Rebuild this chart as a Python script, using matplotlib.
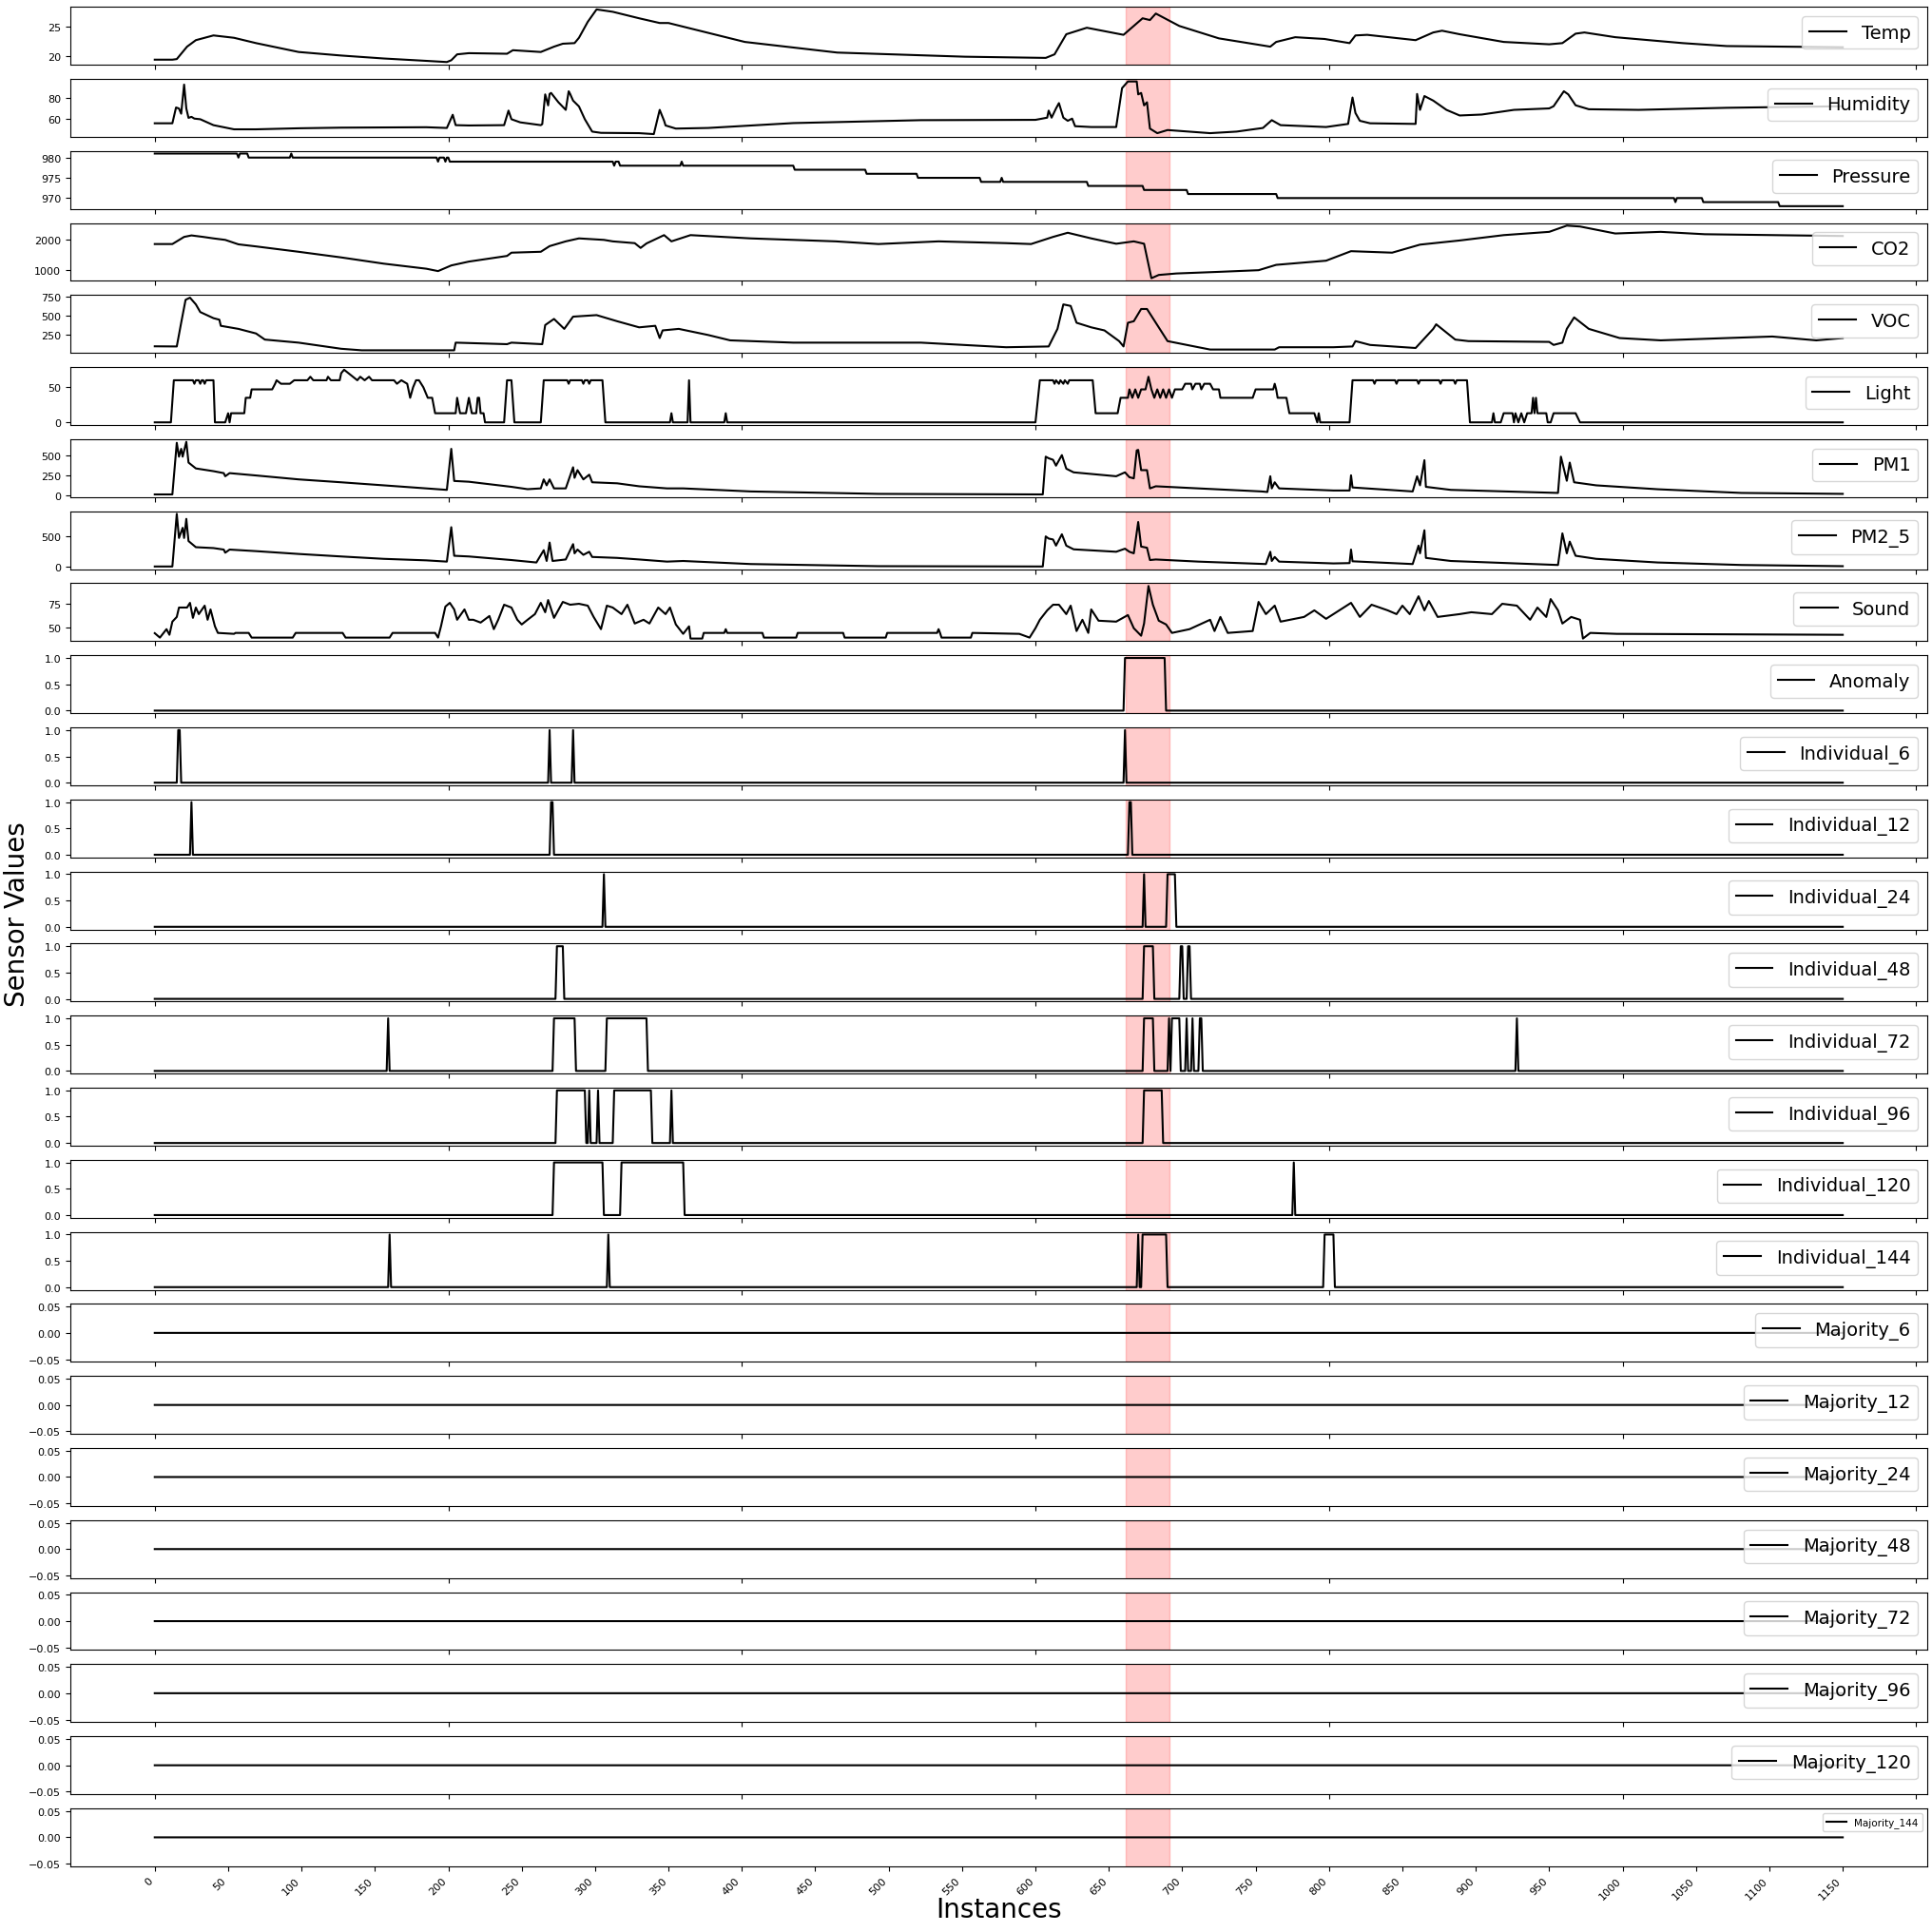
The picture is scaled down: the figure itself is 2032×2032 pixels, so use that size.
import numpy as np
import matplotlib.pyplot as plt
from matplotlib.ticker import MultipleLocator

# number of instances (x = 0 .. 1150)
N = 1151

# continuous sensor readings as (instance, value) knots
temp = [(0, 19.4), (12, 19.4), (15, 19.5), (22, 21.6), (28, 22.7), (40, 23.5), (54, 23.1), (69, 22.2),
        (98, 20.7), (127, 20.1), (156, 19.6), (185, 19.2), (199, 19.0), (202, 19.3), (206, 20.3),
        (214, 20.5), (240, 20.4), (244, 21.0), (263, 20.7), (272, 21.6), (278, 22.1), (286, 22.2),
        (289, 23.1), (295, 25.8), (301, 27.9), (312, 27.5), (330, 26.4), (344, 25.6), (350, 25.6),
        (402, 22.4), (465, 20.6), (552, 19.9), (607, 19.7), (613, 20.3), (621, 23.7), (635, 24.8),
        (660, 23.6), (673, 26.4), (678, 26.1), (682, 27.2), (698, 25.1), (725, 23.0), (760, 21.6),
        (764, 22.4), (777, 23.2), (797, 22.9), (814, 22.2), (818, 23.5), (826, 23.6), (859, 22.7),
        (871, 24.0), (877, 24.3), (889, 23.7), (919, 22.4), (950, 22.0), (959, 22.2), (968, 23.8),
        (974, 24.0), (995, 23.2), (1041, 22.2), (1071, 21.7), (1150, 21.5)]

humidity = [(0, 55.8), (12, 55.8), (14.5, 71), (16.5, 70), (18, 65), (20, 93), (21.5, 70), (23, 61),
            (25, 62), (27, 60.3), (31, 59.7), (40, 54), (54, 50), (69, 50), (98, 51), (127, 51.6),
            (185, 52), (199, 51.3), (203, 64), (205, 54), (214, 53.7), (238, 54), (241, 68),
            (243, 59.7), (249, 56.7), (263, 54), (264, 55), (266, 83.6), (268, 73), (269, 84),
            (270, 85), (275, 76), (280, 68.7), (282, 86.6), (283, 84), (285, 77.6), (289, 72),
            (293, 59.7), (298, 47.8), (304, 46.6), (330, 46.3), (340, 45.4), (344, 68.7), (347, 58.2),
            (348, 53.7), (355, 50.7), (377, 51.3), (435, 56), (522, 58.8), (600, 59.1), (608, 61.2),
            (609, 68), (611, 61.2), (614, 70), (616, 75.2), (619, 61.2), (622, 58.2), (625, 60.3),
            (627, 53), (638, 52.2), (655, 52.2), (659, 89.6), (663, 96), (669, 96), (670, 83.6),
            (672, 85), (674, 73), (676, 76), (678, 50.7), (683, 46.3), (690, 49.3), (719, 46.3),
            (737, 47.8), (755, 51.3), (761, 58.8), (767, 54), (798, 52.2), (813, 55.2), (816, 80.6),
            (818, 65.7), (821, 58.2), (828, 55.8), (859, 55.2), (860, 84), (862, 68.7), (865, 82),
            (871, 77.6), (880, 68.7), (889, 63.3), (904, 64.2), (926, 68.7), (950, 70.1), (953, 72.2),
            (960, 86.6), (963, 83.6), (968, 73.1), (977, 69.3), (1011, 68.7), (1071, 70.7), (1150, 72.2)]

pressure = [(0, 981), (56, 981), (57, 980), (58, 981), (63, 981), (64, 980), (92, 980), (93, 981),
            (94, 980), (192, 980), (193, 979), (194, 980), (197, 980), (198, 979), (199, 980),
            (200, 980), (201, 979), (312, 979), (313, 978), (314, 979), (316, 979), (317, 978),
            (358, 978), (359, 979), (360, 978), (435, 978), (436, 977), (484, 977), (485, 976),
            (519, 976), (520, 975), (562, 975), (563, 974), (576, 974), (577, 975), (578, 974),
            (635, 974), (636, 973), (673, 973), (674, 972), (703, 972), (704, 971), (764, 971),
            (765, 970), (1035, 970), (1036, 969), (1037, 970), (1054, 970), (1055, 969), (1106, 969),
            (1107, 968), (1150, 968)]

co2 = [(0, 1860), (12, 1860), (20, 2100), (25, 2150), (33, 2100), (40, 2050), (48, 2000), (57, 1850),
       (69, 1780), (98, 1600), (127, 1410), (156, 1200), (185, 1030), (193, 950), (202, 1140),
       (214, 1270), (240, 1460), (243, 1570), (263, 1600), (269, 1790), (280, 1950), (289, 2050),
       (306, 2000), (312, 1950), (327, 1890), (331, 1730), (335, 1880), (347, 2160), (352, 1950),
       (365, 2160), (406, 2050), (464, 1950), (493, 1860), (534, 1950), (580, 1890), (597, 1860),
       (612, 2100), (622, 2240), (638, 2050), (655, 1870), (667, 1950), (674, 1870), (679, 710),
       (684, 820), (696, 870), (725, 925), (752, 980), (764, 1160), (798, 1300), (815, 1620),
       (843, 1570), (862, 1840), (889, 1980), (919, 2160), (950, 2270), (962, 2480), (971, 2450),
       (995, 2215), (1026, 2270), (1056, 2190), (1150, 2130)]

voc = [(0, 102), (15, 100), (18, 410), (21, 710), (24, 738), (28, 650), (31, 550), (40, 470), (44, 450),
       (45, 370), (57, 330), (69, 270), (75, 190), (98, 150), (127, 70), (141, 50), (204, 50), (205, 150),
       (240, 130), (243, 150), (264, 130), (266, 380), (272, 460), (279, 330), (285, 490), (301, 510),
       (315, 430), (330, 350), (341, 370), (344, 210), (346, 310), (357, 330), (377, 250), (392, 180),
       (435, 150), (522, 150), (580, 90), (609, 100), (615, 330), (619, 650), (624, 630), (628, 410),
       (638, 350), (647, 310), (657, 170), (660, 100), (663, 410), (667, 430), (672, 590), (676, 590),
       (682, 410), (690, 170), (711, 90), (719, 60), (763, 60), (766, 90), (803, 90), (816, 100),
       (818, 170), (828, 120), (859, 80), (871, 330), (873, 390), (886, 190), (895, 170), (950, 160),
       (953, 120), (959, 150), (962, 330), (967, 480), (977, 330), (998, 210), (1026, 180),
       (1071, 210), (1102, 230), (1132, 180), (1150, 210)]

light = [(0, 0), (11, 0), (13, 60), (26, 60), (27, 55), (28, 60), (30, 60), (31, 55), (32, 60), (33, 60),
         (34, 55), (35, 60), (40, 60), (41, 0), (48, 0), (50, 13), (51, 0), (52, 13), (61, 13), (62, 35),
         (65, 35), (66, 47), (80, 47), (82, 55), (83, 60), (86, 55), (92, 55), (95, 60), (104, 60),
         (106, 65), (108, 60), (117, 60), (118, 65), (120, 60), (126, 60), (127, 70), (129, 75),
         (132, 70), (138, 60), (140, 65), (143, 60), (146, 65), (148, 60), (163, 60), (165, 55),
         (168, 60), (172, 55), (174, 35), (176, 50), (178, 60), (180, 60), (183, 50), (186, 35),
         (189, 35), (191, 13), (205, 13), (206, 35), (208, 13), (212, 13), (214, 35), (216, 13),
         (219, 13), (220, 35), (221, 35), (222, 13), (224, 13), (225, 0), (238, 0), (240, 60), (243, 60),
         (245, 0), (263, 0), (265, 60), (281, 60), (282, 55), (283, 60), (291, 60), (292, 55), (293, 60),
         (295, 60), (296, 55), (297, 60), (305, 60), (307, 0), (351, 0), (352, 13), (353, 0), (363, 0),
         (364, 60), (365, 0), (388, 0), (389, 13), (390, 0), (600, 0), (603, 60), (612, 60), (613, 55),
         (614, 60), (616, 55), (617, 60), (619, 55), (620, 60), (622, 55), (623, 60), (639, 60),
         (641, 13), (656, 13), (658, 35), (663, 35), (664, 47), (666, 35), (668, 47), (670, 35),
         (672, 47), (675, 47), (677, 65), (679, 47), (681, 35), (683, 47), (685, 35), (687, 47),
         (689, 35), (691, 47), (693, 35), (695, 47), (700, 47), (702, 55), (706, 55), (707, 47),
         (709, 55), (712, 55), (713, 47), (715, 55), (719, 55), (721, 47), (725, 47), (726, 35),
         (748, 35), (750, 47), (762, 47), (763, 55), (764, 47), (765, 35), (771, 35), (773, 13),
         (790, 13), (792, 0), (793, 13), (794, 0), (814, 0), (816, 60), (830, 60), (831, 55), (832, 60),
         (845, 60), (846, 55), (847, 60), (860, 60), (861, 55), (862, 60), (875, 60), (876, 55),
         (877, 60), (885, 60), (886, 55), (887, 60), (894, 60), (896, 0), (911, 0), (912, 13), (913, 0),
         (917, 0), (919, 13), (925, 13), (926, 0), (927, 13), (929, 0), (931, 13), (933, 0), (935, 13),
         (938, 13), (939, 35), (940, 13), (941, 35), (942, 13), (948, 13), (949, 0), (951, 0),
         (953, 13), (968, 13), (971, 0), (1150, 0)]

pm1 = [(0, 8), (12, 8), (15, 667), (16.5, 490), (18, 590), (19, 490), (21.5, 680), (23, 415), (28, 340),
       (40, 305), (47, 280), (48, 240), (51, 280), (69, 250), (98, 200), (127, 163), (156, 124),
       (185, 85), (199, 66), (202, 590), (204, 180), (214, 170), (243, 105), (254, 75), (263, 85),
       (265, 200), (267, 124), (269, 200), (272, 85), (280, 85), (285, 355), (286, 220), (288, 318),
       (292, 200), (296, 260), (298, 163), (315, 150), (330, 112), (349, 85), (360, 85), (406, 46),
       (493, 15), (605, 8), (607, 490), (609, 470), (612, 450), (614, 375), (618, 510), (621, 337),
       (626, 290), (655, 240), (661, 290), (664, 228), (667, 213), (669, 570), (670, 577), (672, 318),
       (676, 318), (678, 85), (682, 112), (711, 85), (754, 46), (758, 39), (760, 240), (761, 85),
       (763, 163), (766, 85), (803, 58), (814, 58), (815, 252), (816, 97), (857, 46), (860, 240),
       (862, 124), (865, 445), (866, 105), (883, 66), (956, 27), (958, 490), (962, 182), (964, 415),
       (967, 163), (982, 124), (1024, 74), (1081, 27), (1150, 15)]

pm2_5 = [(0, 10), (12, 10), (15, 850), (16.5, 465), (19, 627), (20, 465), (21.5, 770), (23, 416),
         (28, 318), (40, 304), (47, 280), (48, 230), (51, 280), (69, 255), (98, 210), (127, 170),
         (156, 132), (185, 108), (199, 88), (202, 637), (204, 181), (214, 170), (243, 113), (260, 74),
         (265, 270), (267, 98), (269, 392), (271, 98), (280, 122), (285, 367), (286, 220), (288, 280),
         (292, 196), (296, 245), (298, 162), (315, 147), (330, 122), (349, 88), (360, 98), (406, 49),
         (493, 15), (605, 10), (607, 490), (609, 456), (612, 441), (614, 343), (618, 524), (621, 343),
         (626, 284), (655, 245), (661, 294), (664, 245), (667, 220), (670, 720), (672, 328), (676, 309),
         (678, 113), (682, 122), (711, 88), (757, 49), (760, 245), (761, 98), (763, 162), (766, 88),
         (803, 59), (814, 64), (815, 280), (816, 93), (857, 49), (861, 343), (862, 220), (865, 588),
         (866, 147), (883, 98), (956, 34), (959, 539), (962, 220), (964, 407), (968, 181), (982, 132),
         (1024, 74), (1081, 34), (1150, 15)]

sound = [(0, 43.7), (3.5, 39), (6, 44), (8, 48), (10, 42), (12, 56), (15, 61), (16.5, 71), (22, 71),
         (24, 76), (26, 60), (28, 71), (30, 64), (34, 73), (36, 58), (38, 69), (41, 51), (43, 44),
         (54, 43), (55, 44), (64, 44), (66, 39), (94, 39), (96, 44), (128, 44), (130, 39), (160, 39),
         (162, 44), (191, 44), (193, 39), (195, 51), (198, 72), (201, 76), (204, 69), (206, 58),
         (211, 69), (214, 58), (217, 58), (222, 55), (228, 62), (231, 48), (234, 58), (238, 74),
         (243, 71), (247, 58), (250, 53), (254, 58), (259, 64), (263, 76), (266, 66), (268, 79),
         (272, 60), (278, 77), (283, 74), (289, 75), (295, 73), (299, 61), (304, 48), (308, 73),
         (312, 71), (318, 64), (322, 74), (327, 54), (333, 58), (337, 54), (343, 71), (348, 64),
         (351, 71), (355, 53), (360, 43), (364, 51), (365, 38), (373, 38), (374, 44), (388, 44),
         (389, 48), (390, 44), (414, 44), (415, 39), (437, 39), (438, 44), (469, 44), (470, 39),
         (498, 39), (499, 44), (533, 44), (534, 48), (535, 44), (536, 39), (556, 39), (557, 44),
         (589, 43), (596, 39), (600, 49), (603, 58), (608, 68), (612, 74), (616, 74), (621, 64),
         (624, 73), (628, 46), (632, 58), (636, 44), (638, 69), (643, 57), (655, 56), (663, 63),
         (667, 49), (672, 41), (674, 54), (677, 94), (680, 74), (684, 57), (689, 53), (693, 44),
         (705, 48), (719, 58), (722, 46), (726, 61), (731, 44), (748, 46), (752, 77), (757, 64),
         (763, 73), (767, 56), (783, 61), (790, 68), (798, 59), (815, 76), (821, 61), (829, 74),
         (840, 68), (846, 64), (850, 73), (855, 64), (861, 83), (865, 68), (868, 78), (874, 61),
         (889, 64), (897, 66), (911, 64), (918, 75), (928, 73), (937, 58), (942, 71), (948, 61),
         (951, 80), (956, 68), (959, 54), (965, 61), (971, 58), (973, 38), (978, 44), (996, 43),
         (1150, 42)]

# binary flags: inclusive (start, end) runs where the flag is 1
anomaly_on = [(661, 688)]
ind6_on = [(16, 17), (269, 269), (285, 285), (661, 661)]
ind12_on = [(25, 25), (270, 271), (664, 665)]
ind24_on = [(306, 306), (674, 674), (690, 695)]
ind48_on = [(274, 278), (674, 680), (699, 700), (704, 705)]
ind72_on = [(159, 159), (272, 286), (308, 335), (674, 680), (691, 691), (693, 698), (703, 703),
            (707, 707), (712, 713), (928, 928)]
ind96_on = [(274, 293), (296, 296), (302, 302), (313, 338), (352, 352), (674, 686)]
ind120_on = [(272, 305), (318, 360), (776, 776)]
ind144_on = [(160, 160), (309, 309), (670, 670), (673, 689), (797, 803)]
majority_on = []

windows = [6, 12, 24, 48, 72, 96, 120, 144]
anomaly_span = (661.5, 691)

# y tick spacing of each sensor panel, then the flag panels
sensor_steps = [5, 20, 5, 1000, 250, 50, 250, 500, 25]
flag_step = 0.5
majority_step = 0.05


def flag_series(runs):
    y = np.zeros(N)
    for a, b in runs:
        y[a:b + 1] = 1
    return y


x = np.arange(N)
panels = [("Temp", temp), ("Humidity", humidity), ("Pressure", pressure), ("CO2", co2),
          ("VOC", voc), ("Light", light), ("PM1", pm1), ("PM2_5", pm2_5), ("Sound", sound)]
panels = [(name, [p[0] for p in pts], [p[1] for p in pts]) for name, pts in panels]
steps = list(sensor_steps)
panels.append(("Anomaly", x, flag_series(anomaly_on)))
steps.append(flag_step)
for w, runs in zip(windows, [ind6_on, ind12_on, ind24_on, ind48_on, ind72_on, ind96_on,
                             ind120_on, ind144_on]):
    panels.append((f"Individual_{w}", x, flag_series(runs)))
    steps.append(flag_step)
for w in windows:
    panels.append((f"Majority_{w}", x, flag_series(majority_on)))
    steps.append(majority_step)

fig, axes = plt.subplots(len(panels), 1, figsize=(20.33, 20.33), dpi=100)
fig.subplots_adjust(left=0.0364, right=0.997, top=0.996, bottom=0.034, hspace=0.245)

for ax, (name, xs, ys), step in zip(axes, panels, steps):
    ax.plot(xs, ys, color="black", lw=1.5, label=name)
    ax.axvspan(*anomaly_span, color="red", alpha=0.2)
    ax.yaxis.set_major_locator(MultipleLocator(step))
    ax.tick_params(labelsize=8)
    last = ax is axes[-1]
    ax.legend(loc="upper right", fontsize=7.5 if last else 14)
    if last:
        ax.set_xticks(range(0, 1151, 50))
        plt.setp(ax.get_xticklabels(), rotation=45, ha="right")
    else:
        ax.set_xticks(range(0, 1201, 200))
        ax.set_xticklabels([])

fig.text(0.5167, 0.012, "Instances", ha="center", va="center", fontsize=20)
fig.text(0.009, 0.527, "Sensor Values", rotation=90, va="center", ha="center", fontsize=20)

fig.savefig("out.png", dpi=100)
